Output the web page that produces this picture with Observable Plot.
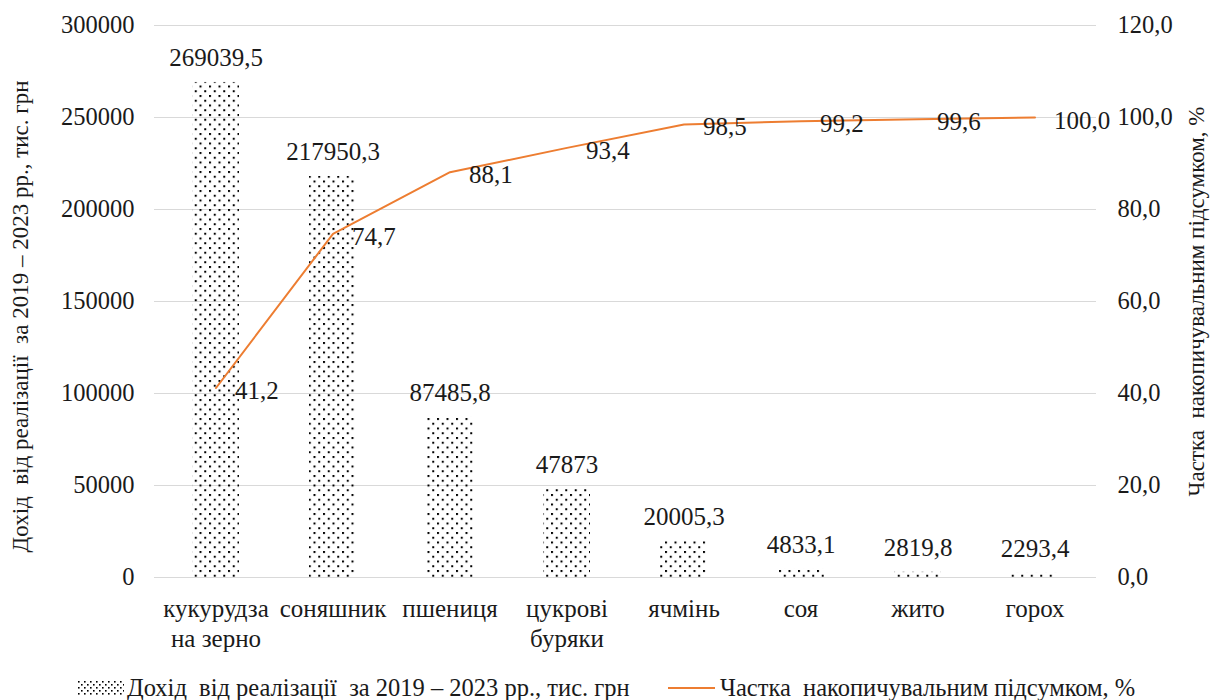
<!DOCTYPE html>
<html><head><meta charset="utf-8">
<script src="https://cdn.jsdelivr.net/npm/d3@7"></script>
<script src="https://cdn.jsdelivr.net/npm/@observablehq/plot@0.6"></script>
<style>
body{margin:0;background:#fff;font-family:'Liberation Serif','Times New Roman',serif;color:#1a1a1a}
#legend{position:relative;height:56px;font-size:24.5px;white-space:pre}
#legend > *{position:absolute;top:50%;transform:translateY(-50%)}
#legend .sw{left:78px;width:46px;height:14px}
#legend .t1{left:127px}
#legend .ln{left:668px;width:47px;height:2px;background:#ED7D31}
#legend .t2{left:720px}
</style></head>
<body>
<div id="chart"></div>
<div id="legend"><svg class="sw" width="46" height="14"><defs><pattern id="ldots" width="6" height="6" patternUnits="userSpaceOnUse"><rect x="0" y="0" width="1.6" height="1.6" fill="#000"/><rect x="3" y="3" width="1.6" height="1.6" fill="#000"/></pattern></defs><rect width="46" height="14" fill="url(#ldots)"/></svg><span class="t1">Дохід  від реалізації  за 2019 – 2023 рр., тис. грн</span><span class="ln"></span><span class="t2">Частка  накопичувальним підсумком, %</span></div>
<script>
const categories = ["кукурудза\nна зерно","соняшник","пшениця","цукрові\nбуряки","ячмінь","соя","жито","горох"];
const revenue = [269039.5, 217950.3, 87485.8, 47873, 20005.3, 4833.1, 2819.8, 2293.4];
const cumulative = [41.2, 74.7, 88.1, 93.4, 98.5, 99.2, 99.6, 100.0];
const leftTicks = [0, 50000, 100000, 150000, 200000, 250000, 300000];
const rightTicks = [0, 20, 40, 60, 80, 100, 120];

const ratio = 2500; // 300000 / 120
const data = categories.map((c, i) => ({cat: c, rev: revenue[i], pct: cumulative[i]}));
const fmt = v => String(v).replace(".", ",");
const fmt1 = v => v.toFixed(1).replace(".", ",");

const font = "'Liberation Serif','Times New Roman',serif";
const chart = Plot.plot({
  width: 1220, height: 660,
  marginLeft: 154, marginRight: 124, marginTop: 25, marginBottom: 83,
  style: {fontFamily: font, fontSize: "24px", color: "#1a1a1a", background: "#fff"},
  x: {domain: categories, paddingInner: 0.6, paddingOuter: 0.3, label: null},
  y: {domain: [0, 300000], label: null},
  marks: [
    Plot.gridY(leftTicks, {stroke: "#d9d9d9", strokeOpacity: 1, strokeWidth: 1}),
    Plot.barY(data, {x: "cat", y: "rev", fill: "url(#dots)"}),
    Plot.text(data, {x: "cat", y: "rev", text: d => fmt(d.rev), dy: -24, fontSize: 25, fontFamily: font, fill: "#1a1a1a"}),
    Plot.line(data, {x: "cat", y: d => d.pct * ratio, stroke: "#ED7D31", strokeWidth: 2}),
    Plot.text(data, {x: "cat", y: d => d.pct * ratio, text: d => fmt1(d.pct), dx: 19, dy: 3, textAnchor: "start", fontSize: 25, fontFamily: font, fill: "#1a1a1a"}),
    Plot.axisX({tickSize: 0, tickPadding: 19, fontSize: 25, fontFamily: font, lineHeight: 1.18, tickFormat: d => d, label: null}),
    Plot.axisY(leftTicks, {anchor: "left", tickSize: 0, tickPadding: 20, fontSize: 24.5, fontFamily: font, tickFormat: d => String(d), label: null}),
    Plot.axisY(rightTicks.map(v => v * ratio), {anchor: "right", tickSize: 0, tickPadding: 21, fontSize: 24.5, fontFamily: font, tickFormat: d => fmt1(d / ratio), label: null}),
    Plot.text(["Дохід  від реалізації  за 2019 – 2023 рр., тис. грн"], {frameAnchor: "left", textAnchor: "middle", dx: -134, dy: 15, rotate: -90, fontSize: 23, fontFamily: font, fill: "#1a1a1a"}),
    Plot.text(["Частка  накопичувальним підсумком, %"], {frameAnchor: "right", textAnchor: "middle", dx: 100, dy: 0, rotate: -90, fontSize: 23, fontFamily: font, fill: "#1a1a1a"})
  ]
});
const svgNS = "http://www.w3.org/2000/svg";
const defs = document.createElementNS(svgNS, "defs");
defs.innerHTML = '<pattern id="dots" width="9.5" height="9.5" patternUnits="userSpaceOnUse"><rect x="0" y="0" width="2" height="2" fill="#000"/><rect x="4.75" y="4.75" width="2" height="2" fill="#000"/></pattern>';
chart.insertBefore(defs, chart.firstChild);
document.getElementById("chart").appendChild(chart);
</script>
</body></html>
